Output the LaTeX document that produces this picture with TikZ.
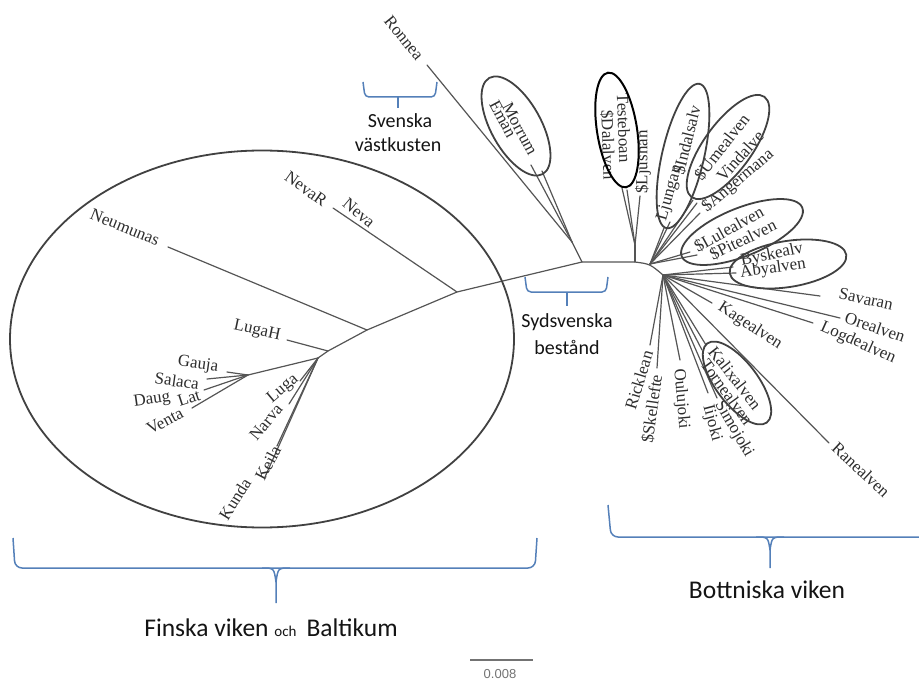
\documentclass[tikz,border=0pt]{standalone}
\usepackage{fontspec}
\setmainfont{Liberation Serif}
\newfontfamily\calfont{Carlito}
\newfontfamily\barfont{Liberation Sans}
\usetikzlibrary{shapes.geometric}
\definecolor{branchgray}{RGB}{85,85,85}
\definecolor{labgray}{RGB}{45,45,45}
\definecolor{ellgray}{RGB}{65,65,65}
\definecolor{brblue}{RGB}{84,128,185}
\definecolor{captext}{RGB}{20,20,20}
\definecolor{scalegray}{RGB}{115,115,115}
\begin{document}
\begin{tikzpicture}[x=1pt,y=-1pt,
  br/.style={draw=branchgray,line width=1.2pt,line cap=round},
  lab/.style={font=\fontsize{17}{17}\selectfont,text=labgray,inner sep=0pt},
  ell/.style={draw=ellgray,line width=1.8pt,ellipse,inner sep=0pt},
  brk/.style={draw=brblue,line width=1.5pt,line join=round},
  captxt/.style={font=\calfont\fontsize{20}{22}\selectfont,text=captext,inner sep=0pt},
  bigcap/.style={font=\calfont\fontsize{25.5}{28}\selectfont,text=captext,inner sep=0pt}]
\path[use as bounding box] (0,0) rectangle (919,682);

% ---------- internal nodes ----------
\coordinate (JB) at (248,375);
\coordinate (J1) at (318,358);
\coordinate (JL) at (328,351);
\coordinate (JN) at (367,330);
\coordinate (JV) at (457,292);
\coordinate (S)  at (582,262);
\coordinate (S2) at (572,242);
\coordinate (H1) at (635,262);
\coordinate (H2) at (650,264);
\coordinate (H3) at (663,275);
\coordinate (JT) at (635,245);

% ---------- leaf ends ----------
\coordinate (lNeu) at (168,247);
\coordinate (lNev) at (333,208);
\coordinate (lLuH) at (287,340);
\coordinate (lGau) at (227,372);
\coordinate (lSal) at (207,379);
\coordinate (lLat) at (204,390);
\coordinate (lVen) at (192,408);
\coordinate (lLug) at (300,381);
\coordinate (lNar) at (289,404);
\coordinate (lKei) at (277,446);
\coordinate (lKun) at (265,477);
\coordinate (lRon) at (427,65);
\coordinate (lMor) at (531,165);
\coordinate (lEma) at (542,171);
\coordinate (lTes) at (622,188);
\coordinate (lDal) at (627,190);
\coordinate (lLju) at (640,196);
\coordinate (lLjg) at (664,228);
\coordinate (lInd) at (670,222);
\coordinate (lUme) at (693,200);
\coordinate (lVin) at (697,203);
\coordinate (lAng) at (700,213);
\coordinate (lLul) at (690,252);
\coordinate (lPit) at (697,255);
\coordinate (lBys) at (733,267);
\coordinate (lAby) at (736,273);
\coordinate (lSav) at (820,296);
\coordinate (lOre) at (840,318);
\coordinate (lLog) at (813,323);
\coordinate (lKag) at (712,303);
\coordinate (lRan) at (829,443);
\coordinate (lKal) at (706,345);
\coordinate (lTor) at (702,350);
\coordinate (lSim) at (717,398);
\coordinate (lIij) at (708,393);
\coordinate (lOul) at (680,360);
\coordinate (lSke) at (657,368);
\coordinate (lRic) at (650,345);

% ---------- branches ----------
\draw[br] (JB) -- (J1) -- (JL) -- (JN) -- (JV) -- (S) -- (H1) .. controls (H2) .. (H3);
\foreach \l in {lGau,lSal,lLat,lVen} \draw[br] (JB) -- (\l);
\foreach \l in {lLug,lNar,lKei,lKun} \draw[br] (J1) -- (\l);
\draw[br] (JL) -- (lLuH);
\draw[br] (JN) -- (lNeu);
\draw[br] (JV) -- (lNev);
\draw[br] (S) -- (S2);
\foreach \l in {lRon,lMor,lEma} \draw[br] (S2) -- (\l);
\draw[br] (H1) -- (JT);
\foreach \l in {lTes,lDal,lLju} \draw[br] (JT) -- (\l);
\foreach \l in {lLjg,lInd,lUme,lVin,lAng,lLul,lPit} \draw[br] (H2) -- (\l);
\foreach \l in {lBys,lAby,lSav,lOre,lLog,lKag,lRan,lKal,lTor,lSim,lIij,lOul,lSke,lRic} \draw[br] (H3) -- (\l);

% ---------- labels ----------
\node[lab,rotate=-22] (tNeu) at (125,227) {Neumunas};
\node[lab,rotate=-35] (tNevR) at (306,189) {NevaR};
\node[lab,rotate=-40] (tNev) at (359,213) {Neva};
\node[lab,rotate=-12] (tLuH) at (257,331) {LugaH};
\node[lab,rotate=-8] (tGau) at (198,365) {Gauja};
\node[lab,rotate=-8] (tSal) at (177,381) {Salaca};
\node[lab,rotate=8] (tDau) at (152,400) {Daug};
\node[lab,rotate=18] (tLat) at (189,398) {Lat};
\node[lab,rotate=28] (tVen) at (165,421) {Venta};
\node[lab,rotate=40] (tLug) at (283,389) {Luga};
\node[lab,rotate=50] (tNar) at (266,422) {Narva};
\node[lab,rotate=62] (tKei) at (268,463) {Keila};
\node[lab,rotate=58] (tKun) at (235,499) {Kunda};

\node[lab,rotate=-51] (tRon) at (404,38) {Ronnea};
\node[lab,rotate=-62] (tMor) at (520,129) {Morrum};
\node[lab,rotate=-62] (tEma) at (503,119) {Eman};
\node[lab,rotate=-88] (tTes) at (624,128) {Testeboan};
\node[lab,rotate=-88] (tDal) at (608,145) {\$Dalalven};
\node[lab,rotate=90] (tLju) at (643,162) {\$Ljusnan};
\node[lab,rotate=76] (tInd) at (687,140) {\$Indalsalv};
\node[lab,rotate=74] (tLjg) at (670,193) {Ljungan};
\node[lab,rotate=52] (tUme) at (722,147) {\$Umealven};
\node[lab,rotate=48] (tVin) at (740,156) {Vindalve};
\node[lab,rotate=40] (tAng) at (738,181) {\$Angermana};
\node[lab,rotate=29] (tLul) at (729,229) {\$Lulealven};
\node[lab,rotate=26] (tPit) at (743,240) {\$Pitealven};
\node[lab,rotate=12] (tBys) at (772,255) {Byskealv};
\node[lab,rotate=8] (tAby) at (773,269) {Abyalven};
\node[lab,rotate=-12] (tSav) at (866,299) {Savaran};
\node[lab,rotate=-19] (tOre) at (875,327) {Orealven};
\node[lab,rotate=-24] (tLog) at (858,343) {Logdealven};
\node[lab,rotate=-33] (tKag) at (750,326) {Kagealven};
\node[lab,rotate=-43] (tRan) at (861,470) {Ranealven};
\node[lab,rotate=-52] (tKal) at (735,378) {Kalixalven};
\node[lab,rotate=-54] (tTor) at (727,392) {Tornealven};
\node[lab,rotate=-60] (tSim) at (734,429) {Simojoki};
\node[lab,rotate=-75] (tIij) at (712,423) {Iijoki};
\node[lab,rotate=-85] (tOul) at (681,399) {Oulujoki};
\node[lab,rotate=73] (tRic) at (639,380) {Ricklean};
\node[lab,rotate=82] (tSke) at (652,409) {\$Skellefte};

% ---------- ellipses ----------
\node[ell,minimum width=504,minimum height=377] (eBig) at (262,339) {};
\node[ell,minimum width=110,minimum height=50,rotate=-61] (eMor) at (516,126) {};
\node[ell,draw=black,line width=2pt,minimum width=116,minimum height=40,rotate=-81] (eTes) at (617,130) {};
\node[ell,minimum width=148,minimum height=42,rotate=77] (eInd) at (683,156) {};
\node[ell,minimum width=124,minimum height=48,rotate=54] (eUme) at (728,147) {};
\node[ell,minimum width=130,minimum height=48,rotate=22] (eLul) at (742,232) {};
\node[ell,minimum width=118,minimum height=46,rotate=9] (eAby) at (788,264) {};
\node[ell,minimum width=99,minimum height=42,rotate=-53] (eKal) at (737,383) {};

% ---------- brackets ----------
\draw[brk,rounded corners=4pt] (363,82) -- (365,97) -- (435,97) -- (437,82);
\draw[brk] (398,97) -- (398,108);
\node[captxt] (cSv1) at (400,121) {Svenska};
\node[captxt] (cSv2) at (398,145) {västkusten};

\draw[brk,rounded corners=4pt] (525,277) -- (527,292) -- (606,292) -- (608,277);
\draw[brk] (567,292) -- (567,306);
\node[captxt] (cSy1) at (567,322) {Sydsvenska};
\node[captxt] (cSy2) at (567,347) {bestånd};

\draw[brk,rounded corners=7pt] (13,538) -- (15,568) -- (535,568) -- (537,538);
\draw[brk] (262,568) .. controls (274,568) .. (276,582) -- (276,603);
\draw[brk] (290,568) .. controls (278,568) .. (276,582);
\node[bigcap] (cFin) at (271,628) {Finska viken {\fontsize{15}{15}\selectfont och}\, Baltikum};

\draw[brk,rounded corners=7pt] (608,505) -- (611,537) -- (925,537);
\draw[brk] (756,537) .. controls (768,537) .. (770,550) -- (770,568);
\draw[brk] (784,537) .. controls (772,537) .. (770,550);
\node[bigcap] (cBot) at (767,590) {Bottniska viken};

% ---------- scale bar ----------
\draw[draw=scalegray,line width=2pt] (470,660) -- (533,660);
\node[font=\barfont\fontsize{13}{13}\selectfont,text=scalegray,inner sep=0pt] (cSc) at (500,674) {0.008};
\end{tikzpicture}
\end{document}
